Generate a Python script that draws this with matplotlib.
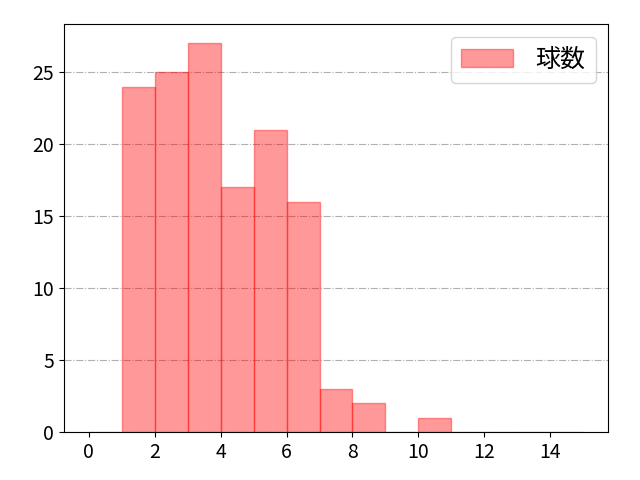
import numpy as np
import matplotlib
matplotlib.use("Agg")
import matplotlib.pyplot as plt

plt.rcParams['font.family'] = ['Noto Sans CJK JP', 'DejaVu Sans']
plt.rcParams['font.size'] = 14

# pitch counts per bin (bins 0-1, 1-2, ... 14-15)
bin_edges = np.arange(0, 16)
counts = [0, 24, 25, 27, 17, 21, 16, 3, 2, 0, 1, 0, 0, 0, 0]
label = "球数"

fig, ax = plt.subplots(figsize=(6.4, 4.8), dpi=100)
ax.hist(bin_edges[:-1], bins=bin_edges, weights=counts,
        color="red", alpha=0.4, edgecolor="red", label=label)
ax.grid(axis="y", linestyle="-.", color="#b0b0b0")
ax.set_axisbelow(True)
ax.set_xticks([0, 2, 4, 6, 8, 10, 12, 14])
ax.legend(loc="upper right", fontsize=18, handlelength=2.1, handletextpad=0.9)
fig.subplots_adjust(left=0.1, right=0.95, top=0.95, bottom=0.1)
plt.savefig("out.png")
